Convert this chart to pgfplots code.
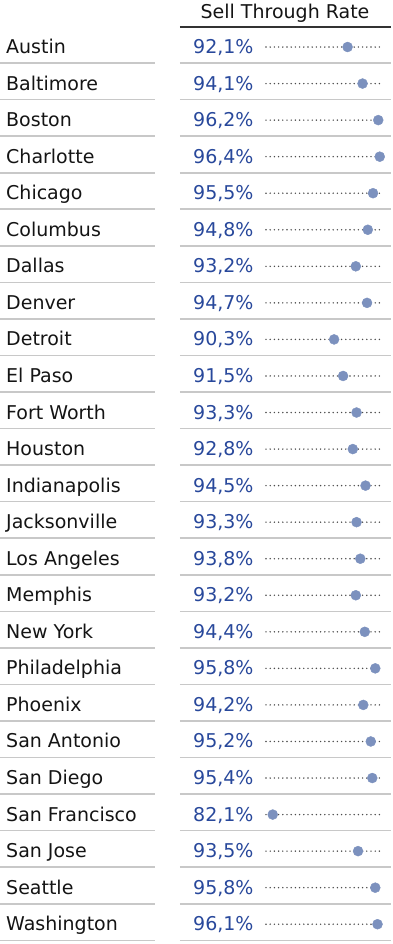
\documentclass[border=0pt]{standalone}
\usepackage{fontspec}
\setmainfont{DejaVu Sans}
\usepackage{pgfplots}
\usepackage{pgfplotstable}
\pgfplotsset{compat=1.18}
\definecolor{dotblue}{RGB}{124,145,190}
\definecolor{pctblue}{RGB}{40,72,155}
\definecolor{sepgray}{RGB}{200,200,200}
\definecolor{txt}{RGB}{20,20,20}
\pgfplotstableread[col sep=comma,row sep=\\]{
idx,city,val\\
0,Austin,92.1\\
1,Baltimore,94.1\\
2,Boston,96.2\\
3,Charlotte,96.4\\
4,Chicago,95.5\\
5,Columbus,94.8\\
6,Dallas,93.2\\
7,Denver,94.7\\
8,Detroit,90.3\\
9,El Paso,91.5\\
10,Fort Worth,93.3\\
11,Houston,92.8\\
12,Indianapolis,94.5\\
13,Jacksonville,93.3\\
14,Los Angeles,93.8\\
15,Memphis,93.2\\
16,New York,94.4\\
17,Philadelphia,95.8\\
18,Phoenix,94.2\\
19,San Antonio,95.2\\
20,San Diego,95.4\\
21,San Francisco,82.1\\
22,San Jose,93.5\\
23,Seattle,95.8\\
24,Washington,96.1\\
}\data
\begin{document}
\begin{tikzpicture}
\useasboundingbox (0,0) rectangle (393pt,-944pt);
\begin{axis}[
  at={(266pt,-28.725pt)}, anchor=north west,
  scale only axis, width=116pt, height=913.75pt,
  xmin=81.2, xmax=96.7, ymin=-0.5, ymax=24.5, y dir=reverse,
  axis line style={draw=none}, tick style={draw=none},
  major tick length=0pt,
  xtick=\empty,
  ytick={0,...,24},
  yticklabels from table={\data}{city},
  yticklabel style={anchor=base west, inner sep=0pt, xshift=-260pt, yshift=-6.5pt, font=\fontsize{19}{22}\selectfont, text=txt},
  ymajorgrids,
  grid style={line width=1.6pt, line cap=round, dash pattern=on 0pt off 4.2pt, color=black!70},
  clip=false,
  /pgf/number format/assume math mode=true,
]
\addplot[draw=none, mark=none,
  nodes near coords={\pgfmathprintnumber[fixed,fixed zerofill,precision=1,use comma]{\pgfplotspointmeta}\%},
  point meta=explicit,
  every node near coord/.append style={anchor=base west, inner sep=0pt, xshift=-73pt, yshift=-6.5pt, font=\fontsize{19}{22}\selectfont, text=pctblue},
] table[x expr=81.2, y=idx, meta=val] {\data};
\addplot[only marks, mark=*, mark size=5pt, color=dotblue] table[x=val, y=idx] {\data};
\pgfplotsinvokeforeach{0,...,24}{
  \draw[sepgray, line width=1.6pt] ([xshift=-266pt]axis cs:81.2,#1.44) -- ([xshift=-111pt]axis cs:81.2,#1.44);
  \draw[sepgray, line width=1.6pt] ([xshift=-86pt]axis cs:81.2,#1.44) -- ([xshift=125pt]axis cs:81.2,#1.44);
}
\draw[black!80, line width=2.2pt] ([xshift=-86pt]axis cs:81.2,-0.547) -- ([xshift=125pt]axis cs:81.2,-0.547);
\node[anchor=base, inner sep=0pt, font=\fontsize{19}{22}\selectfont, text=txt] at ([xshift=19pt]axis cs:81.2,-0.785) {Sell Through Rate};
\end{axis}
\end{tikzpicture}
\end{document}
